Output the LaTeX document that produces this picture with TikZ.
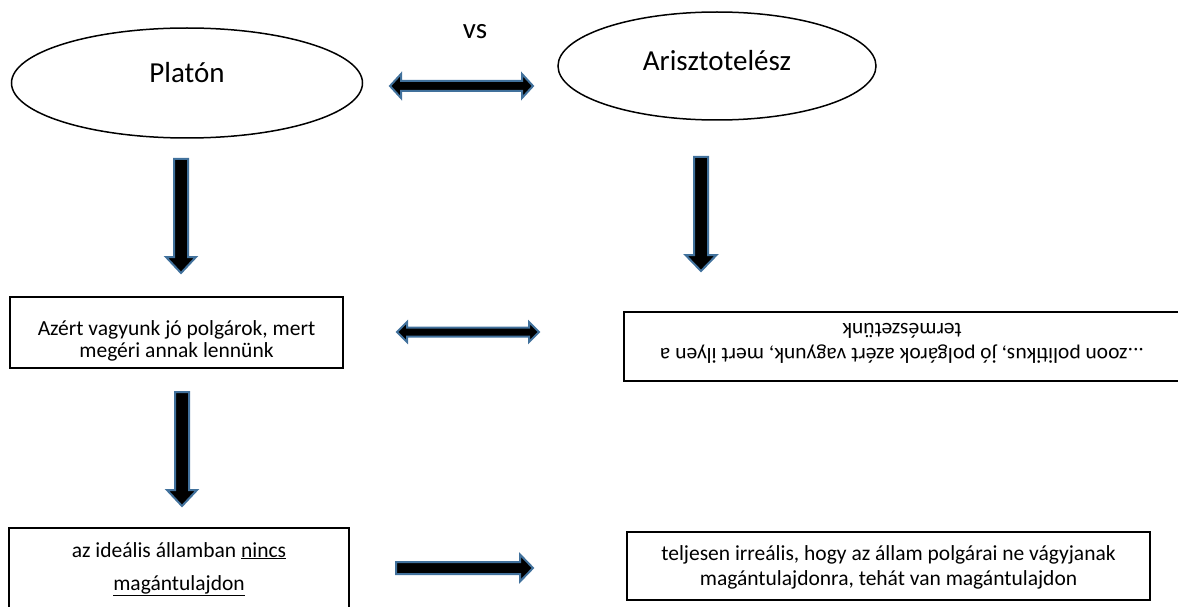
\documentclass[tikz,border=0pt]{standalone}
\usepackage{fontspec}
\setmainfont{Carlito}
\usetikzlibrary{shapes.geometric,calc}
\definecolor{arrowline}{RGB}{65,113,156}
\tikzset{
  thinker/.style={ellipse, draw, line width=1.5pt, inner sep=0pt,
    font=\fontsize{29}{35}\selectfont},
  thesis/.style={rectangle, draw, line width=2pt, align=center, inner sep=0pt,
    font=\fontsize{21.5}{25}\selectfont},
  blockarrow/.style n args={3}{draw=arrowline, fill=black, line width=2pt, line join=miter,
    to path={let \p1=(\tikztostart), \p2=(\tikztotarget),
      \n1={atan2(\y2-\y1,\x2-\x1)}, \n2={veclen(\x2-\x1,\y2-\y1)} in
      {[shift={(\p1)}, rotate=\n1]
        (0,#1) -- (\n2-#3,#1) -- (\n2-#3,#2) -- (\n2,0) -- (\n2-#3,-#2)
        -- (\n2-#3,-#1) -- (0,-#1) -- cycle}}},
  dblockarrow/.style n args={3}{draw=arrowline, fill=black, line width=2pt, line join=miter,
    to path={let \p1=(\tikztostart), \p2=(\tikztotarget),
      \n1={atan2(\y2-\y1,\x2-\x1)}, \n2={veclen(\x2-\x1,\y2-\y1)} in
      {[shift={(\p1)}, rotate=\n1]
        (0,0) -- (#3,#2) -- (#3,#1) -- (\n2-#3,#1) -- (\n2-#3,#2) -- (\n2,0)
        -- (\n2-#3,-#2) -- (\n2-#3,-#1) -- (#3,-#1) -- (#3,-#2) -- cycle}}},
}
\begin{document}
\begin{tikzpicture}[x=1pt,y=-1pt]
    \clip (0,0) rectangle (1178,607);
    % the two thinkers
    \node[thinker, minimum width=351pt, minimum height=110pt,
      text height=20pt, text depth=20pt] (platon) at (187,83) {Platón};
    \node[thinker, minimum width=318pt, minimum height=108pt,
      text height=20pt, text depth=10pt] (aris) at (717,66) {Arisztotelész};
    \node[font=\fontsize{29}{35}\selectfont] (vs) at (475,32) {vs};
    \coordinate (v1) at (390,86);
    \coordinate (v2) at (533,86);
    \draw[dblockarrow={5}{12}{11}] (v1) to (v2);
    % first row
    \coordinate (p1) at (181,159);
    \coordinate (p2) at (181,273);
    \draw[blockarrow={7}{15}{16}] (p1) to (p2);
    \coordinate (a1) at (701,157);
    \coordinate (a2) at (701,271);
    \draw[blockarrow={7}{15.5}{16}] (a1) to (a2);
    \node[thesis, minimum width=333pt, minimum height=71pt, text height=60pt,
      text depth=11pt, font=\fontsize{21.5}{22}\selectfont] (azert) at (176.5,332.5)
      {Azért vagyunk jó polgárok, mert\\megéri annak lennünk};
    \node[thesis, rotate=180, minimum width=556pt, minimum height=69pt,
      text height=58pt, text depth=11pt] (zoon) at (902,346.5)
      {...zoon politikus, jó polgárok azért vagyunk, mert ilyen a\\természetünk};
    \coordinate (m1) at (397,332);
    \coordinate (m2) at (539,332);
    \draw[dblockarrow={4.5}{10}{10}] (m1) to (m2);
    % second row
    \coordinate (p3) at (182,392);
    \coordinate (p4) at (182,506);
    \draw[blockarrow={7}{15}{16}] (p3) to (p4);
    \node[thesis, minimum width=340pt, minimum height=112pt, text height=62pt,
      text depth=50pt, font=\fontsize{21.5}{33}\selectfont] (idealis) at (179,584)
      {az ideális államban \underline{nincs}\\\underline{magántulajdon}};
    \node[thesis, minimum width=523pt, minimum height=68pt, text height=53pt,
      text depth=15pt] (irrealis) at (888.5,566)
      {teljesen irreális, hogy az állam polgárai ne vágyjanak\\magántulajdonra, tehát van magántulajdon};
    \coordinate (r1) at (396,568);
    \coordinate (r2) at (533,568);
    \draw[blockarrow={6}{13.5}{13}] (r1) to (r2);
\end{tikzpicture}
\end{document}
